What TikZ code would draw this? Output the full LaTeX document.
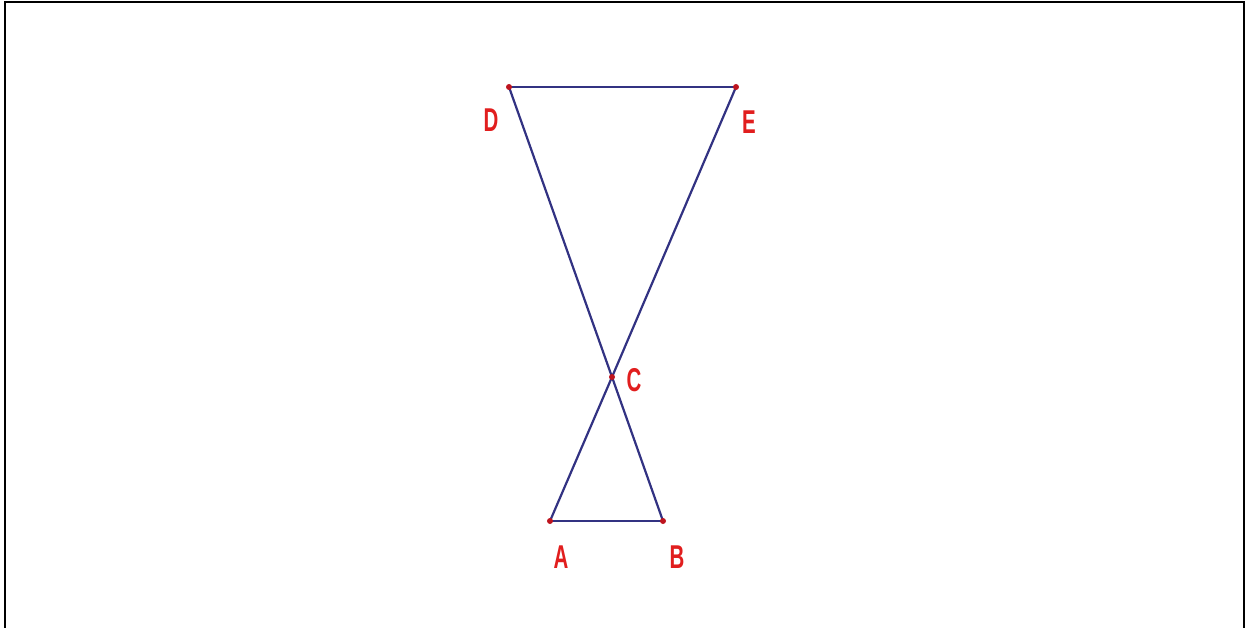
\documentclass[tikz,border=0pt]{standalone}
\usepackage{fontspec}
\setmainfont{Liberation Sans}
\begin{document}
\begin{tikzpicture}[x=1pt,y=-1pt,
  seg/.style={draw={rgb,255:red,50;green,50;blue,130}, line width=2.2pt},
  dotpt/.style={circle, fill={rgb,255:red,190;green,20;blue,30}, inner sep=0pt, minimum size=6pt},
  lbl/.style={text={rgb,255:red,225;green,30;blue,30}, font=\bfseries\fontsize{33}{33}\selectfont, xscale=0.62, inner sep=0pt}]
\useasboundingbox (0,0) rectangle (1246,628);
\draw[line width=2.4pt] (5,628) -- (5,2) -- (1244,2) -- (1244,628);
\coordinate (D) at (509,87);
\coordinate (E) at (736,87);
\coordinate (C) at (612,377);
\coordinate (A) at (550,521);
\coordinate (B) at (663,521);
\draw[seg] (D) -- (E);
\draw[seg] (D) -- (C) -- (B);
\draw[seg] (E) -- (C) -- (A);
\draw[seg] (A) -- (B);
\foreach \p in {A,B,C,D,E} \node[dotpt] (p\p) at (\p) {};
\node[lbl] (lD) at (491,120) {D};
\node[lbl] (lE) at (749,122) {E};
\node[lbl] (lC) at (634,380) {C};
\node[lbl] (lA) at (561,557) {A};
\node[lbl] (lB) at (677,557) {B};
\end{tikzpicture}
\end{document}
